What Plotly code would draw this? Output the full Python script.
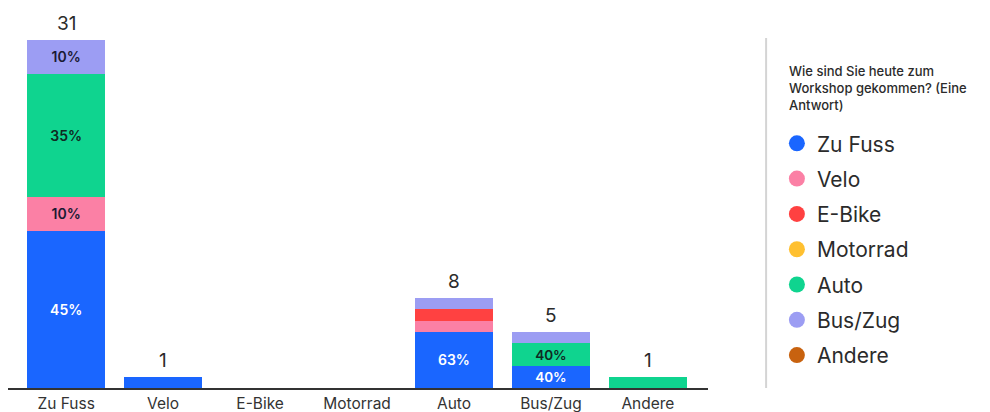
import plotly.graph_objects as go

# Survey: how participants travelled to the workshop, broken down by answer
categories = ["Zu Fuss", "Velo", "E-Bike", "Motorrad", "Auto", "Bus/Zug", "Andere"]

series_names = ["Zu Fuss", "Velo", "E-Bike", "Motorrad", "Auto", "Bus/Zug", "Andere"]
zu_fuss = [14, 1, 0, 0, 5, 2, 0]
velo = [3, 0, 0, 0, 1, 0, 0]
e_bike = [0, 0, 0, 0, 1, 0, 0]
motorrad = [0, 0, 0, 0, 0, 0, 0]
auto = [11, 0, 0, 0, 0, 2, 1]
bus_zug = [3, 0, 0, 0, 1, 1, 0]
andere = [0, 0, 0, 0, 0, 0, 0]

legend_title = "Wie sind Sie heute zum<br>Workshop gekommen? (Eine<br>Antwort)"

series_values = [zu_fuss, velo, e_bike, motorrad, auto, bus_zug, andere]
series_colors = ["#1a66ff", "#fb80a5", "#ff4141", "#ffc030", "#0fd48f", "#9c9df3", "#c8620f"]
label_colors = ["#ffffff", "#1a1a33", "#1a1a33", "#1a1a33", "#102a22", "#1a1a33", "#ffffff"]

totals = [sum(col) for col in zip(*series_values)]

FONT = "Inter"

fig = go.Figure()

for name, vals, color, lcolor in zip(series_names, series_values, series_colors, label_colors):
    texts = []
    for v, t in zip(vals, totals):
        if v >= 2 and t > 0:
            texts.append(f"{int(v / t * 100 + 0.5)}%")
        else:
            texts.append("")
    fig.add_trace(go.Bar(
        x=categories, y=vals, name=name, legendgroup=name, showlegend=False,
        marker=dict(color=color, line=dict(width=0)),
        text=texts, textposition="inside", insidetextanchor="middle", textangle=0,
        textfont=dict(family=FONT, size=14, color=lcolor, weight=600),
        width=0.8, hoverinfo="skip",
    ))
    # round legend marker for each answer
    fig.add_trace(go.Scatter(
        x=[None], y=[None], mode="markers", name=name, legendgroup=name,
        marker=dict(symbol="circle", size=16, color=color),
    ))

# total count above each non-empty bar
for cat, t in zip(categories, totals):
    if t > 0:
        fig.add_annotation(x=cat, y=t, text=str(t), showarrow=False,
                           yanchor="bottom", yshift=3,
                           font=dict(family=FONT, size=19, color="#2b2b2b"))

# legend heading
fig.add_annotation(xref="paper", yref="paper", x=0.7933, y=0.866,
                   xanchor="left", yanchor="top", align="left", showarrow=False,
                   text=legend_title,
                   font=dict(family=FONT, size=13, color="#2b2b2b", weight=500))

# divider between chart and legend
fig.add_shape(type="line", xref="paper", yref="paper",
              x0=0.772, x1=0.772, y0=0.0, y1=0.926,
              line=dict(color="#d4d4d4", width=2))

fig.update_layout(
    width=990, height=412,
    margin=dict(l=8, r=0, t=10, b=24),
    paper_bgcolor="white", plot_bgcolor="white",
    barmode="stack", bargap=0.2,
    font=dict(family=FONT, color="#2b2b2b"),
    xaxis=dict(domain=[0, 700 / 982], range=[-0.6, 6.62],
               showline=True, linecolor="#333333", linewidth=2,
               showgrid=False, zeroline=False, ticks="",
               tickfont=dict(family=FONT, size=15.5, color="#333333")),
    yaxis=dict(range=[0, 33.67], showgrid=False, zeroline=False,
               showticklabels=False, showline=False),
    showlegend=True,
    legend=dict(
        x=0.783, xanchor="left", y=0.7006, yanchor="top",
        traceorder="grouped", tracegroupgap=5,
        font=dict(family=FONT, size=21, color="#2b2b2b"),
        itemclick=False, itemdoubleclick=False,
    ),
)

fig.write_html("out.html")
